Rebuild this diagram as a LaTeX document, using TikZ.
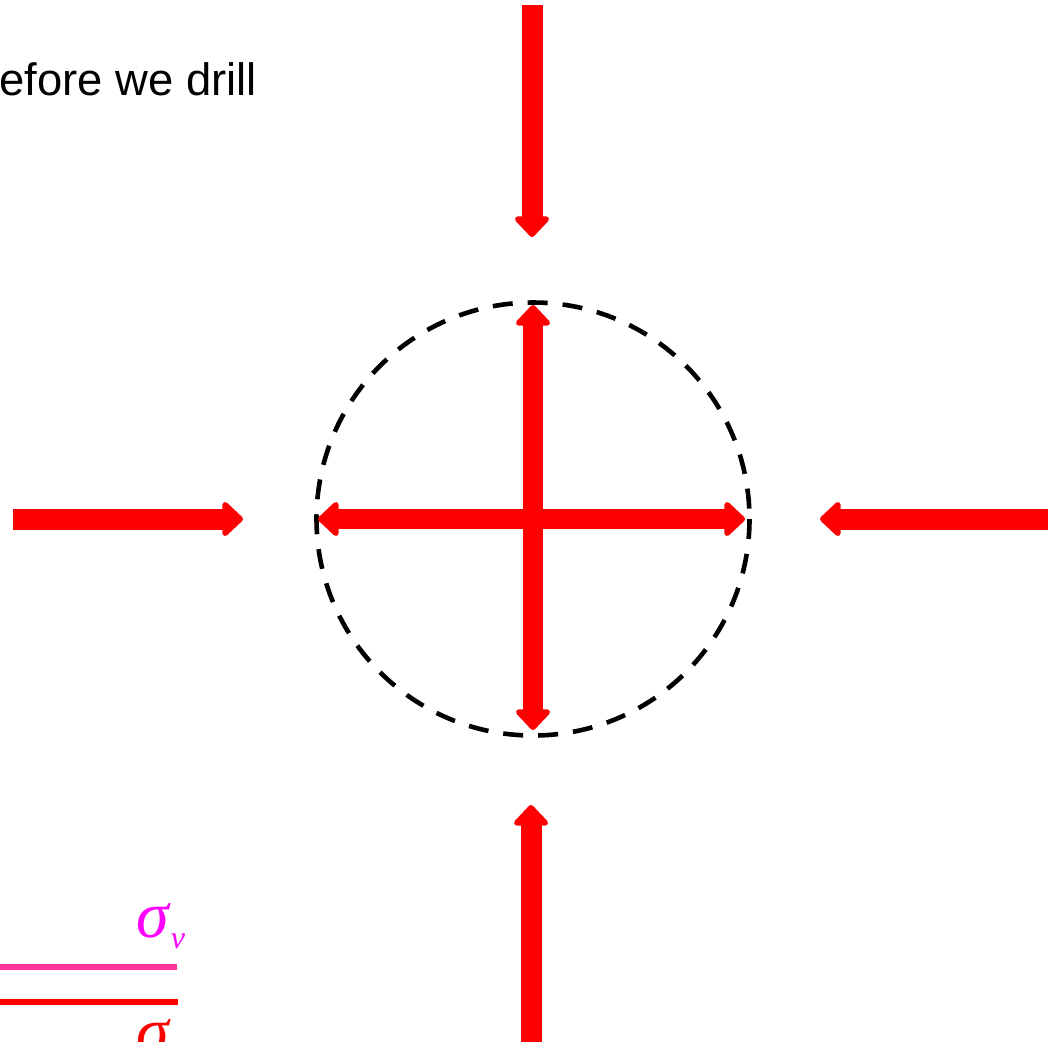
\documentclass[tikz,border=0pt]{standalone}
\usepackage{fontspec}
\setmainfont{Liberation Sans}
\newfontfamily\seriffont{Liberation Serif}
\usetikzlibrary{arrows.meta}
\definecolor{arrred}{HTML}{FF0000}
\definecolor{sigmag}{HTML}{FF00FF}
\definecolor{pinkline}{HTML}{FF3399}
\begin{document}
\begin{tikzpicture}[x=0.5pt,y=-0.5pt,
  bigarrow/.style={draw=arrred,line width=10.5pt,line join=round,
    -{Triangle[width=20pt,length=11pt,round]}},
  dblarrow/.style={draw=arrred,line width=10pt,line join=round,
    {Triangle[width=20pt,length=11pt,round]}-{Triangle[width=20pt,length=11pt,round]}},
  dashcircle/.style={draw=black,line width=2.3pt,dash pattern=on 10pt off 7.5pt},
  legendline/.style={line width=3pt},
  sig/.style={inner sep=0pt,anchor=base west,font=\seriffont\itshape\fontsize{33}{36}\selectfont},
  sub/.style={inner sep=0pt,anchor=base west,font=\seriffont\itshape\fontsize{16}{18}\selectfont},
]
\clip (0,0) rectangle (1048,1041);
\useasboundingbox (0,0) rectangle (1048,1041);

% title text (cut by the left edge)
\node[inner sep=0pt,anchor=base west,font=\fontsize{22.7}{26}\selectfont] (title) at (-1,95) {efore we drill};

% coordinates
\coordinate (c) at (533,519);
\coordinate (topS) at (532,5);
\coordinate (topE) at (532,237);
\coordinate (botS) at (531,1045);
\coordinate (botE) at (531,805);
\coordinate (leftS) at (13,519);
\coordinate (leftE) at (243,519);
\coordinate (rightS) at (1050,519);
\coordinate (rightE) at (820,519);
\coordinate (inT) at (533,305);
\coordinate (inB) at (533,730);
\coordinate (inL) at (318,519);
\coordinate (inR) at (745,519);

% dashed circle
\draw[dashcircle] (c) circle[radius=216.5];

% outer arrows
\draw[bigarrow] (topS) -- (topE);
\draw[bigarrow] (botS) -- (botE);
\draw[bigarrow] (leftS) -- (leftE);
\draw[bigarrow] (rightS) -- (rightE);

% inner arrows
\draw[dblarrow] (inT) -- (inB);
\draw[dblarrow] (inL) -- (inR);

% legend
\coordinate (l1a) at (0,967);
\coordinate (l1b) at (177,967);
\coordinate (l2a) at (0,1002);
\coordinate (l2b) at (178,1002);
\draw[legendline,pinkline] (l1a) -- (l1b);
\draw[legendline,arrred] (l2a) -- (l2b);
\node[sig,text=sigmag] (sv) at (136,937) {σ};
\node[sub,text=sigmag] (svsub) at (sv.base east) [yshift=-5.5pt,xshift=0.5pt] {v};
\node[sig,text=arrred] (sh) at (136,1053) {σ};
\end{tikzpicture}
\end{document}
